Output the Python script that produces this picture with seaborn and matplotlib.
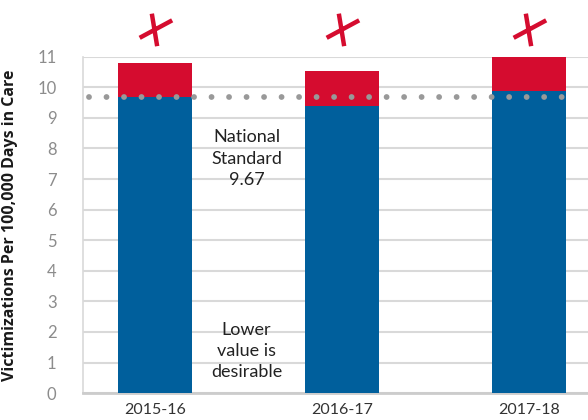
import matplotlib
matplotlib.use("Agg")
import matplotlib.pyplot as plt
import seaborn as sns
import pandas as pd
from matplotlib.path import Path

years = ["2015-16", "2016-17", "2017-18"]
blue_part = [9.67, 9.39, 9.87]
totals = [10.78, 10.52, 11.02]
national_standard = 9.67
y_ticks = list(range(0, 12))

BLUE = "#005f9c"
RED = "#d50c2f"
GRID = "#d9d9d9"

sns.set_theme(style="white")
plt.rcParams["font.family"] = ["Lato", "DejaVu Sans"]

df = pd.DataFrame({"year": years, "blue": blue_part, "total": totals})

fig = plt.figure(figsize=(5.88, 4.2), dpi=100)
ax = fig.add_axes([0.141, 0.064, 0.859, 0.801])

sns.barplot(data=df, x="year", y="total", color=RED, width=0.395,
            saturation=1, linewidth=0, ax=ax, zorder=2)
sns.barplot(data=df, x="year", y="blue", color=BLUE, width=0.395,
            saturation=1, linewidth=0, ax=ax, zorder=3)

ax.set_xlim(-0.385, 2.316)
ax.set_ylim(0, 11)
ax.set_yticks(y_ticks)
ax.yaxis.grid(True, color=GRID, lw=1.5, zorder=0)
ax.set_axisbelow(True)
for s in ["top", "right"]:
    ax.spines[s].set_visible(False)
ax.spines["left"].set_color(GRID)
ax.spines["left"].set_linewidth(1.2)
ax.spines["bottom"].set_color("#cccccc")
ax.spines["bottom"].set_linewidth(2)
ax.tick_params(axis="y", length=0, pad=19, labelsize=12, labelcolor="#8c8c8c")
ax.tick_params(axis="x", length=0, pad=7, labelsize=11.5, labelcolor="#333333")
ax.set_xlabel("")
ax.set_ylabel("Victimizations Per 100,000 Days in Care", fontsize=11.5,
              fontweight="bold", family=["Open Sans", "DejaVu Sans"],
              color="#1a1a1a")
ax.yaxis.set_label_coords(-0.129, 0.5)

# National standard dotted line
ax.axhline(national_standard, xmin=0.012, xmax=0.957, color="#999999",
           lw=4.2, linestyle=(0, (0.001, 3.0)), dash_capstyle="round", zorder=5)

# Annotations
ax.text(0.49, 7.67, "National\nStandard\n9.67", ha="center", va="center",
        fontsize=13, color="#222222", linespacing=1.4)
ax.text(0.49, 1.38, "Lower\nvalue is\ndesirable", ha="center", va="center",
        fontsize=13, color="#222222", linespacing=1.4)

# Red cross marks above bars
cross = Path([(-0.22, 0.95), (0.1, -1.0), (-0.95, -0.5), (1.0, 0.55)],
             [Path.MOVETO, Path.LINETO, Path.MOVETO, Path.LINETO])
for i in range(len(years)):
    ax.plot([i], [11.9], marker=cross, markersize=24,
            markeredgewidth=3.2, color=RED, clip_on=False,
            solid_capstyle="round", zorder=6)

fig.savefig("out.png", dpi=100)
